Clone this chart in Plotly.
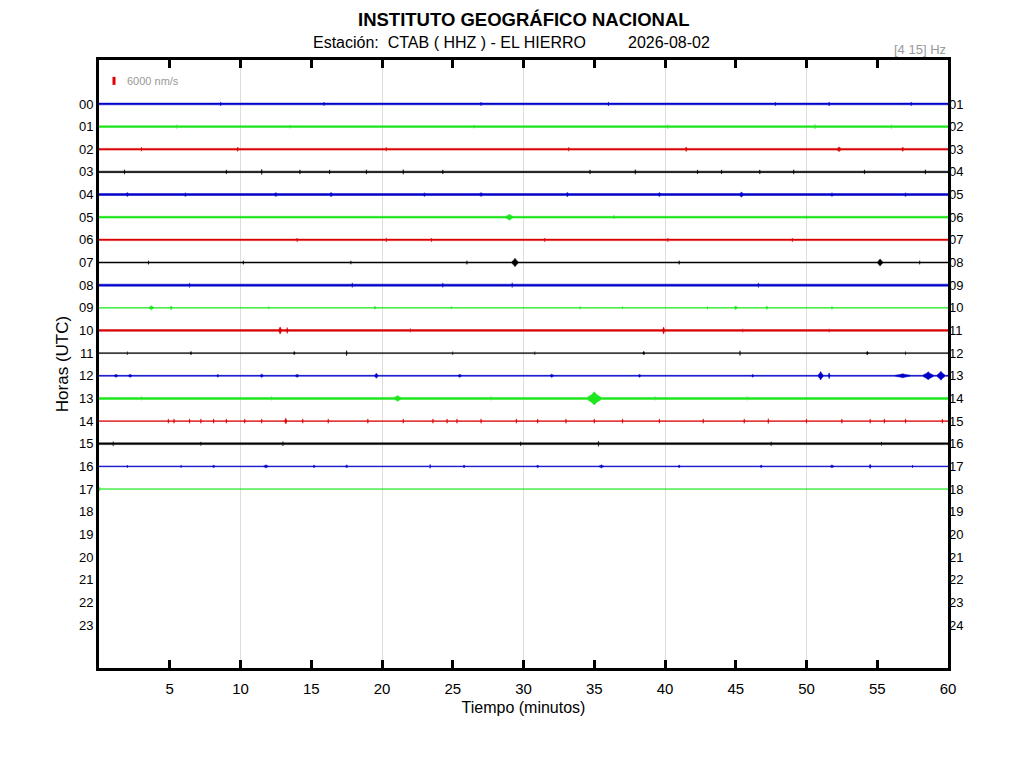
import plotly.graph_objects as go

# helicorder CTAB HHZ, one trace per hour, values in nm/s
hours = list(range(18))
left_labels = ["%02d" % h for h in range(24)]
right_labels = ["%02d" % (h + 1) for h in range(24)]
trace_colors = ["#0000c8", "#1ee61e", "#d80000", "#000000"]

scale_nms = 6000

# background noise half-amplitude per hour (nm/s)
noise = [650, 650, 650, 560, 720, 650, 560, 380, 750, 230,
         650, 350, 350, 750, 230, 650, 290, 230]

# events per hour: (minute, half-amplitude nm/s, duration minutes)
events = {
    0: [(8.6, 1500, .1), (15.9, 1400, .1), (27.0, 1400, .1), (36.0, 1500, .1),
        (47.8, 1400, .1), (51.6, 1500, .1), (57.4, 1400, .1)],
    1: [(5.5, 1400, .1), (13.5, 1300, .1), (26.5, 1300, .1), (40.2, 1500, .1),
        (50.6, 1600, .1), (56.0, 1400, .1)],
    2: [(3.0, 1500, .1), (9.8, 1600, .15), (20.3, 1500, .1), (33.2, 1500, .1),
        (41.5, 1700, .2), (52.3, 1800, .3), (56.8, 1600, .2)],
    3: [(1.8, 1700, .1), (9.0, 1600, .1), (11.5, 2000, .1), (14.2, 1600, .1),
        (16.3, 1600, .1), (18.9, 1700, .1), (21.5, 1800, .1), (24.3, 1600, .1),
        (34.7, 1600, .1), (37.9, 1800, .1), (42.3, 1600, .1), (44.0, 1600, .1),
        (46.7, 1600, .1), (49.1, 1700, .1), (54.1, 1600, .1), (58.4, 1700, .1)],
    4: [(2.0, 1500, .3), (6.1, 1400, .3), (12.5, 1500, .3), (16.4, 1600, .3),
        (23.0, 1400, .3), (27.0, 1500, .3), (33.1, 1600, .3), (39.6, 1500, .3),
        (45.4, 2000, .3), (51.8, 1400, .3), (57.0, 1400, .3)],
    5: [(29.0, 2400, .5), (36.4, 1400, .1), (50.0, 1300, .1)],
    6: [(14.0, 1400, .1), (20.3, 1500, .1), (23.5, 1400, .1), (31.5, 1400, .1),
        (40.2, 1400, .1), (49.0, 1400, .1)],
    7: [(3.5, 1400, .1), (10.2, 1400, .1), (17.8, 1300, .1), (26.0, 1400, .1),
        (29.4, 3200, .5), (41.0, 1400, .1), (55.2, 2700, .4), (58.0, 1400, .1)],
    8: [(6.4, 1700, .1), (17.9, 1700, .1), (24.3, 1700, .1), (29.2, 1800, .1),
        (46.6, 1700, .1)],
    9: [(3.7, 1600, .4), (5.1, 1400, .2), (12.0, 1000, .1), (19.5, 1100, .2),
        (24.9, 1000, .1), (34.0, 1100, .1), (37.0, 1000, .1), (43.0, 1100, .1),
        (45.0, 1300, .3), (47.2, 1200, .2), (51.8, 1200, .1)],
    10: [(12.8, 2700, .25), (13.3, 2200, .15), (22.0, 1400, .1), (39.9, 2600, .2),
         (45.5, 1300, .1), (51.6, 1300, .1)],
    11: [(2.0, 1100, .1), (6.5, 1200, .2), (13.8, 1200, .2), (17.5, 1900, .1),
         (25.0, 1100, .1), (30.8, 1100, .1), (38.5, 1300, .2), (45.3, 1800, .1),
         (54.3, 1300, .2), (57.0, 1100, .1)],
    12: [(1.2, 1200, .3), (2.2, 1200, .3), (8.4, 1100, .2), (11.5, 1300, .3),
         (14.0, 1200, .3), (19.6, 1900, .3), (25.5, 1200, .3), (32.0, 1300, .3),
         (38.2, 1200, .2), (46.2, 1100, .2), (51.0, 3200, .4), (51.6, 2200, .15),
         (56.8, 1500, 1.2), (58.6, 3000, .8), (59.5, 3400, .6)],
    13: [(3.0, 1400, .1), (12.2, 1400, .1), (21.1, 2300, .5), (27.7, 1400, .1),
         (35.0, 5000, 1.0), (39.3, 1400, .1), (45.8, 1400, .1)],
    14: [(4.9, 1700, .1), (5.3, 1700, .1), (6.4, 1700, .1), (7.2, 1700, .1),
         (8.1, 1700, .1), (9.0, 1700, .1), (10.3, 1700, .1), (11.5, 1700, .1),
         (13.2, 2200, .2), (14.4, 1700, .1), (16.2, 1700, .1), (19.0, 1700, .1),
         (21.5, 1700, .1), (23.6, 1700, .1), (24.6, 1700, .1), (25.3, 1700, .1),
         (27.0, 1700, .1), (29.5, 1700, .1), (31.0, 1700, .1), (33.0, 1700, .1),
         (35.0, 1700, .1), (37.0, 1700, .1), (39.6, 1700, .1), (42.7, 1700, .1),
         (45.6, 1700, .1), (47.3, 1900, .1), (50.0, 1700, .1), (52.5, 1700, .1),
         (54.5, 1700, .1), (55.5, 1700, .1), (57.0, 1700, .1), (59.6, 1700, .1)],
    15: [(1.0, 1600, .1), (7.2, 1400, .1), (13.0, 1700, .1), (29.8, 1500, .1),
         (35.3, 2000, .1), (47.5, 1500, .1), (55.3, 1400, .1)],
    16: [(2.0, 1000, .1), (5.8, 1000, .1), (8.1, 1100, .2), (11.8, 1200, .4),
         (15.2, 1100, .2), (17.5, 1200, .2), (23.4, 1500, .1), (25.8, 1100, .2),
         (31.0, 1100, .2), (35.5, 1200, .4), (41.0, 1100, .2), (46.8, 1100, .2),
         (51.8, 1200, .3), (54.5, 1500, .2), (57.5, 1000, .1)],
    17: [(0.05, 1500, .05)],
}

# rows per nm/s: the 6000 nm/s bar spans 8 px and one hour row is ~22.65 px
k = (8 / 22.65) / scale_nms


def envelope(h):
    n = noise[h]
    xs, amps = [0], [n]
    for m, a, d in sorted(events[h]):
        xs += [m - d / 2, m - d / 6, m, m + d / 6, m + d / 2]
        amps += [n, a * 0.6, a, a * 0.6, n]
    xs.append(60)
    amps.append(n)
    top = [h - a * k for a in amps]
    bot = [h + a * k for a in amps]
    return xs + xs[::-1], top + bot[::-1]


fig = go.Figure()

for h in hours:
    px_, py_ = envelope(h)
    c = trace_colors[h % 4]
    fig.add_trace(go.Scatter(x=px_, y=py_, mode="lines", fill="toself",
                             fillcolor=c, line=dict(color=c, width=0.5, simplify=False),
                             hoverinfo="skip", showlegend=False))

# scale bar
fig.add_trace(go.Scatter(x=[1.06, 1.06], y=[-1.02 - scale_nms / 2 * k, -1.02 + scale_nms / 2 * k],
                         mode="lines", line=dict(color="#e00000", width=3),
                         hoverinfo="skip", showlegend=False))
# dummy trace to activate right axis
fig.add_trace(go.Scatter(x=[None], y=[None], yaxis="y2", showlegend=False))

font = "Liberation Sans, Arial, sans-serif"
yrange = [24.9, -1.94]

fig.update_layout(
    width=1024, height=768,
    margin=dict(l=91, r=84, t=52, b=108),
    paper_bgcolor="white", plot_bgcolor="white",
    font=dict(family=font, color="black"),
    xaxis=dict(range=[0, 60], tickvals=list(range(5, 61, 5)), automargin=False,
               ticks="inside", ticklen=8, tickwidth=2.5, tickcolor="black",
               showline=True, linewidth=3, linecolor="black", mirror="ticks",
               showgrid=False, zeroline=False, tickfont=dict(size=15),
               ticklabelstandoff=5,
               minor=dict(tickvals=[10, 20, 30, 40, 50], showgrid=True,
                          gridcolor="#dddddd", gridwidth=1, ticks=""),
               title=dict(text="Tiempo (minutos)", font=dict(size=16), standoff=6)),
    yaxis=dict(range=yrange, tickvals=list(range(24)), ticktext=left_labels,
               automargin=False,
               ticks="", showline=True, linewidth=3, linecolor="black", mirror=True,
               showgrid=False, zeroline=False, tickfont=dict(size=13),
               title=dict(text="Horas (UTC)", font=dict(size=17), standoff=6)),
    yaxis2=dict(range=yrange, overlaying="y", side="right", automargin=False,
                tickvals=list(range(24)), ticktext=right_labels,
                ticks="", showline=False, showgrid=False, zeroline=False,
                tickfont=dict(size=13)),
)

fig.add_annotation(text="<b>INSTITUTO GEOGRÁFICO NACIONAL</b>", xref="paper", yref="paper",
                   x=0.5006, y=1.0658, xanchor="center", yanchor="middle",
                   showarrow=False, font=dict(size=18.5))
fig.add_annotation(text="Estación:&nbsp; CTAB ( HHZ ) - EL HIERRO", xref="paper", yref="paper",
                   x=0.4134, y=1.028, xanchor="center", yanchor="middle",
                   showarrow=False, font=dict(size=16))
fig.add_annotation(text="2026-08-02", xref="paper", yref="paper",
                   x=0.6708, y=1.028, xanchor="center", yanchor="middle",
                   showarrow=False, font=dict(size=16))
fig.add_annotation(text="[4 15] Hz", xref="paper", yref="paper", xanchor="right",
                   x=1.0, y=1.018, yanchor="middle", showarrow=False,
                   font=dict(size=13, color="#999999"))
fig.add_annotation(text="6000 nm/s", x=1.84, y=-1.02, xanchor="left", showarrow=False,
                   font=dict(size=11, color="#999999"))

fig.write_html("out.html")
